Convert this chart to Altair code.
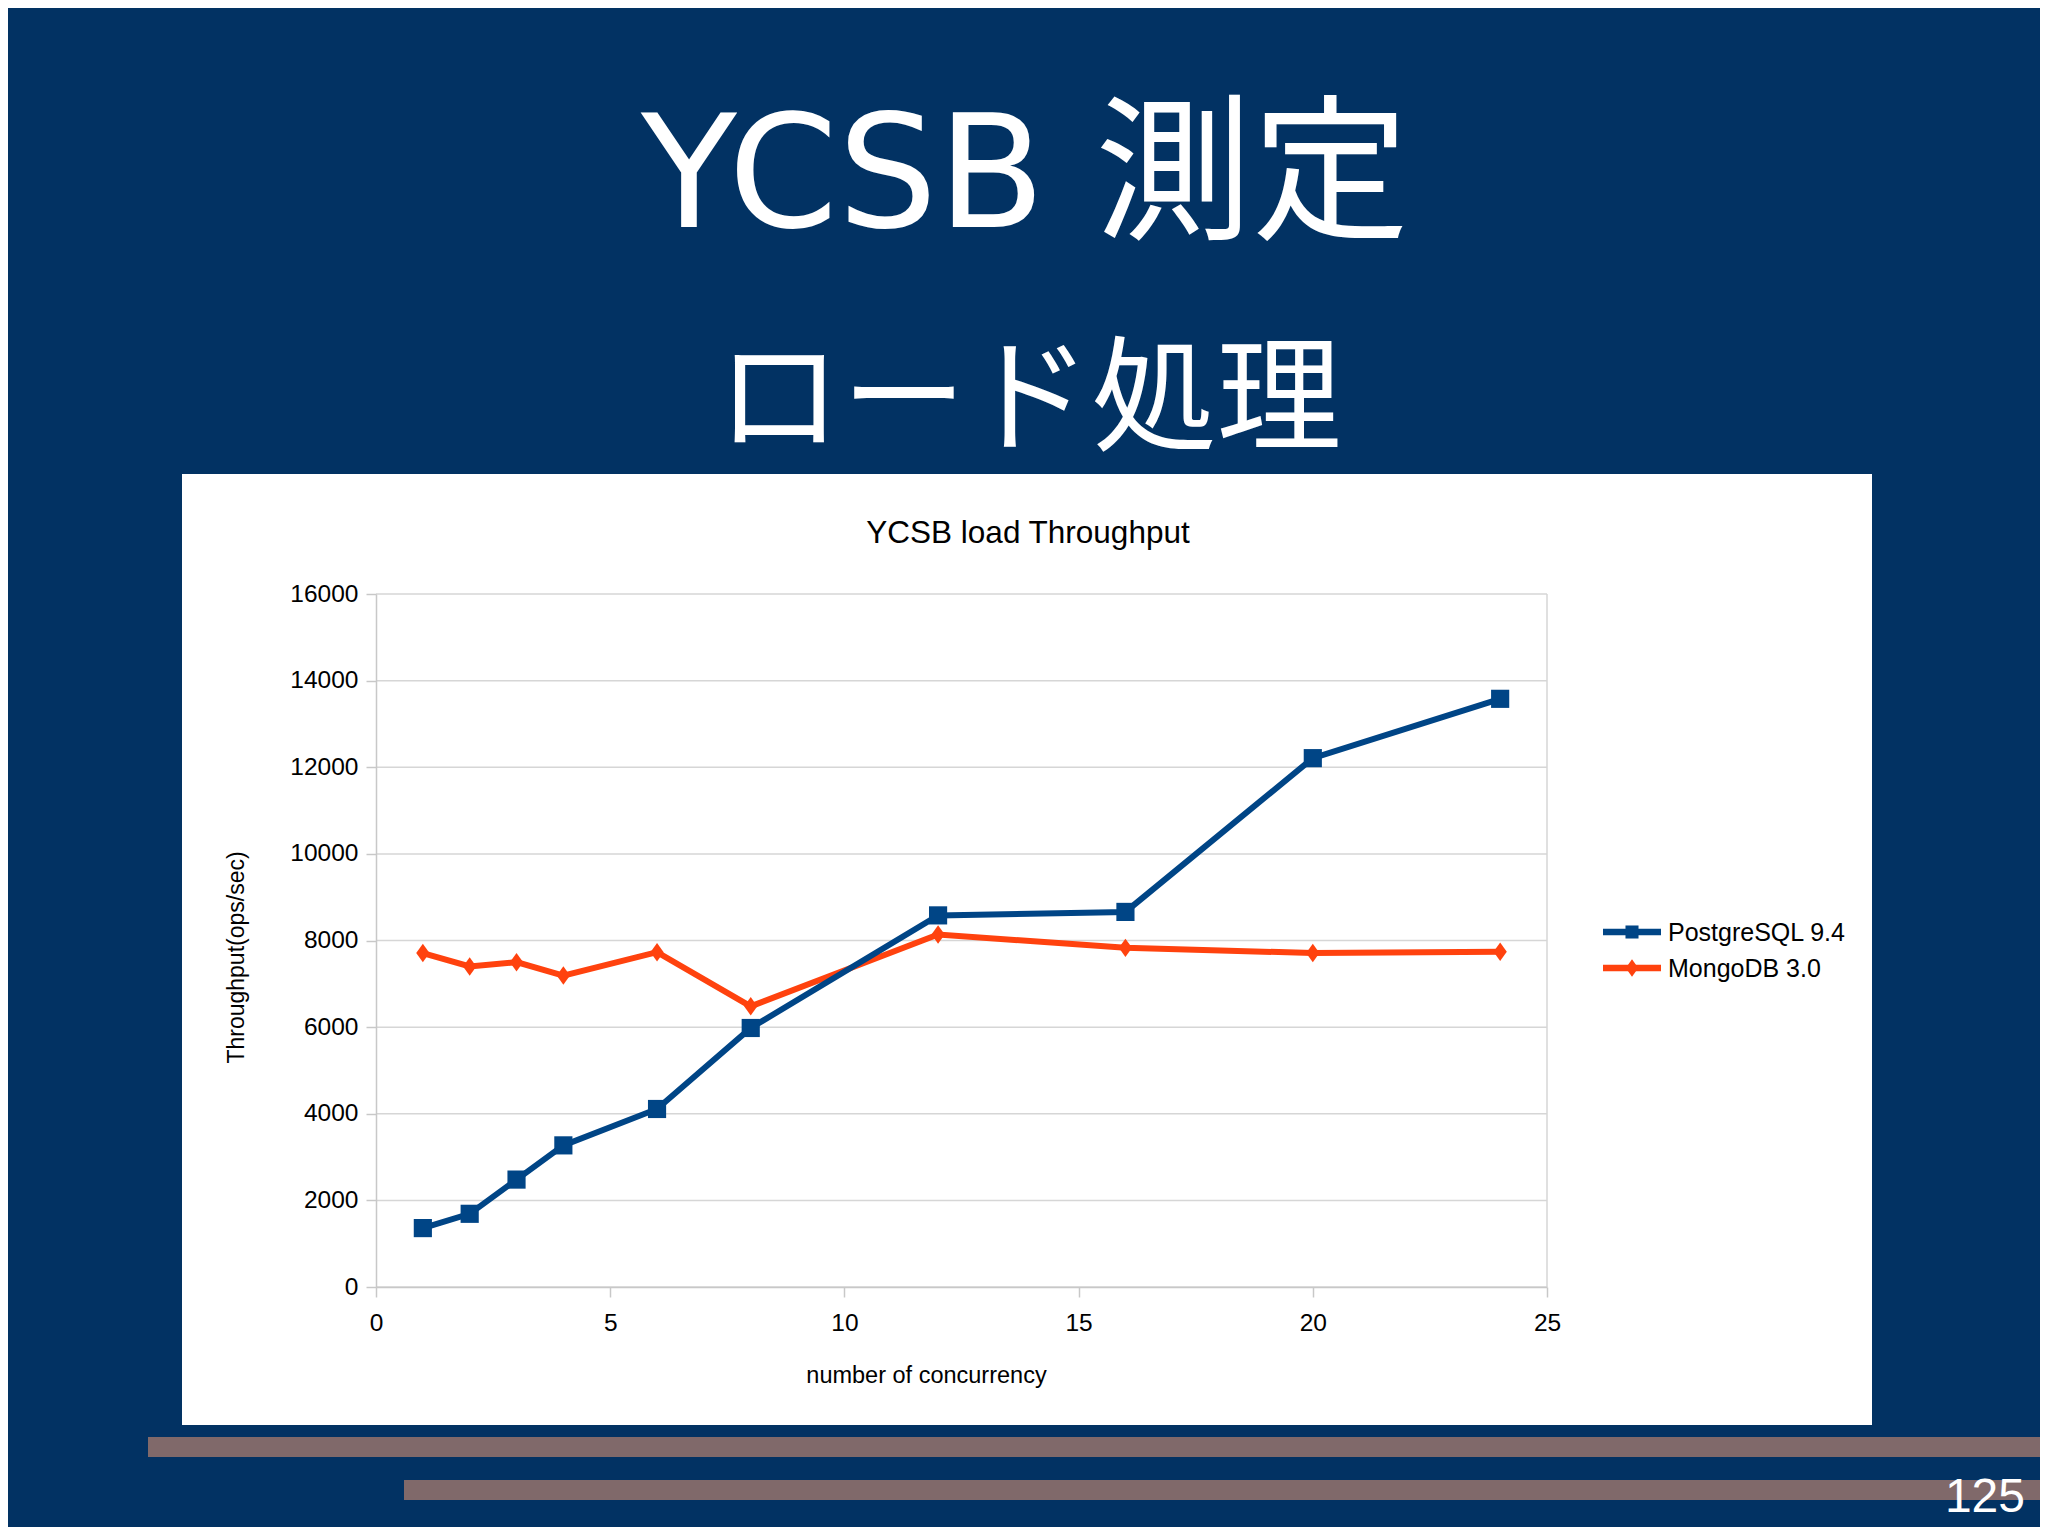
import altair as alt
import pandas as pd

# ---- data ----
concurrency = [1, 2, 3, 4, 6, 8, 12, 16, 20, 24]
postgres = [1360, 1690, 2480, 3270, 4110, 5980, 8580, 8660, 12210, 13580]
mongo = [7710, 7400, 7500, 7190, 7730, 6480, 8140, 7830, 7710, 7740]
series_names = ["PostgreSQL 9.4", "MongoDB 3.0"]
series_colors = ["#004586", "#ff420e"]
x_ticks = [0, 5, 10, 15, 20, 25]
y_ticks = [0, 2000, 4000, 6000, 8000, 10000, 12000, 14000, 16000]

slide_title = "YCSB 測定"
slide_subtitle = "ロード処理"
chart_title = "YCSB load Throughput"
x_title = "number of concurrency"
y_title = "Throughput(ops/sec)"
page_number = "125"

# ---- styling ----
BG = "#023263"
BAR = "#80696a"
GRID = "#d6d6d6"
FONT = "Liberation Sans"
TITLE_FONT = "'DejaVu Sans', 'Noto Sans CJK JP', sans-serif"
DIAMOND = "M0,-1L0.72,0L0,1L-0.72,0Z"

df = pd.DataFrame({
    "x": concurrency * 2,
    "y": postgres + mongo,
    "series": [series_names[0]] * len(concurrency) + [series_names[1]] * len(concurrency),
})
grid_df = pd.DataFrame({"y": y_ticks})
one = pd.DataFrame({"k": [0]})

xscale = alt.Scale(domain=[0, 25], nice=False, zero=True)
yscale = alt.Scale(domain=[0, 16000], nice=False, zero=True)

x_axis = alt.Axis(
    title=x_title, values=x_ticks, grid=False, domain=True, domainColor="#c8c8c8",
    domainWidth=1.5, ticks=True, tickColor="#c8c8c8", tickSize=10, tickWidth=1.5,
    labelFont=FONT, labelFontSize=24.5, labelColor="#000000", labelPadding=14,
    labelFlush=False, labelOverlap=False,
    titleFont=FONT, titleFontSize=23.5, titleFontWeight="normal", titleColor="#000000",
    titleX=550, titleY=95, titleBaseline="alphabetic", titleAlign="center", zindex=1,
)
y_axis = alt.Axis(
    title=y_title, values=y_ticks, format="d", grid=False, domain=True,
    domainColor="#c8c8c8", domainWidth=1.5, ticks=True, tickColor="#c8c8c8",
    tickSize=10, tickWidth=1.5,
    labelFont=FONT, labelFontSize=24.5, labelColor="#000000", labelPadding=8,
    labelFlush=False, labelOverlap=False,
    titleFont=FONT, titleFontSize=23, titleFontWeight="normal", titleColor="#000000",
    titleX=-133, titleY=363, titleAngle=270, titleAlign="center",
    titleBaseline="alphabetic", zindex=1,
)

X = alt.X("x:Q", scale=xscale, axis=x_axis)
Y = alt.Y("y:Q", scale=yscale, axis=y_axis)

panel = alt.Chart(one).mark_rect(color="white").encode(
    x=alt.value(-194), x2=alt.value(1496), y=alt.value(-120), y2=alt.value(831))
bar1 = alt.Chart(one).mark_rect(color=BAR).encode(
    x=alt.value(-228), x2=alt.value(1680), y=alt.value(843), y2=alt.value(863))
bar2 = alt.Chart(one).mark_rect(color=BAR).encode(
    x=alt.value(28), x2=alt.value(1680), y=alt.value(886), y2=alt.value(906))

title1 = alt.Chart(one).mark_text(
    text=slide_title, font=TITLE_FONT, fontSize=157, color="white",
    align="center", baseline="alphabetic").encode(x=alt.value(649), y=alt.value(-367))
title2 = alt.Chart(one).mark_text(
    text=slide_subtitle, font=TITLE_FONT, fontSize=125, color="white",
    align="center", baseline="alphabetic").encode(x=alt.value(653), y=alt.value(-153))
ctitle = alt.Chart(one).mark_text(
    text=chart_title, font=FONT, fontSize=31.5, color="#000000",
    align="center", baseline="alphabetic").encode(x=alt.value(652), y=alt.value(-51))
pnum = alt.Chart(one).mark_text(
    text=page_number, font=FONT, fontSize=48, color="white",
    align="right", baseline="alphabetic").encode(x=alt.value(1649), y=alt.value(918))

grid = alt.Chart(grid_df).mark_rule(color=GRID, strokeWidth=1.5).encode(y=Y)
right_border = alt.Chart(one).mark_rule(color=GRID, strokeWidth=1.5).encode(
    x=alt.X(datum=25, scale=xscale, axis=x_axis))

color = alt.Color("series:N", scale=alt.Scale(domain=series_names, range=series_colors), legend=None)
shape = alt.Shape("series:N", scale=alt.Scale(domain=series_names, range=["square", DIAMOND]), legend=None)

series_layers = []
for name in [series_names[1], series_names[0]]:
    base = alt.Chart(df).transform_filter(alt.datum.series == name)
    size = 330 if name == series_names[0] else 340
    series_layers.append(base.mark_line(strokeWidth=6).encode(x=X, y=Y, color=color))
    series_layers.append(base.mark_point(filled=True, opacity=1, size=size).encode(
        x=X, y=Y, color=color, shape=shape))

legend_layers = []
leg_rows = [(338, 347, "square", 170), (374, 383, DIAMOND, 300)]
for i, (ly, tb, shp, sz) in enumerate(leg_rows):
    c = series_colors[i]
    legend_layers.append(alt.Chart(one).mark_rule(color=c, strokeWidth=6.5).encode(
        x=alt.value(1227), x2=alt.value(1285), y=alt.value(ly)))
    legend_layers.append(alt.Chart(one).mark_point(
        filled=True, opacity=1, color=c, shape=shp, size=sz).encode(
        x=alt.value(1256), y=alt.value(ly)))
    legend_layers.append(alt.Chart(one).mark_text(
        text=series_names[i], font=FONT, fontSize=25, color="#000000",
        align="left", baseline="alphabetic").encode(x=alt.value(1292), y=alt.value(tb)))

chart = alt.layer(
    panel, bar1, bar2, title1, title2, ctitle, grid, right_border,
    *series_layers, *legend_layers, pnum,
).properties(
    width=1171, height=693,
    padding={"left": 368, "top": 586, "right": 493, "bottom": 240},
    autosize="none",
).configure(background=BG).configure_view(stroke=None)

chart.save("out.html", embed_options={"renderer": "svg", "actions": False})
